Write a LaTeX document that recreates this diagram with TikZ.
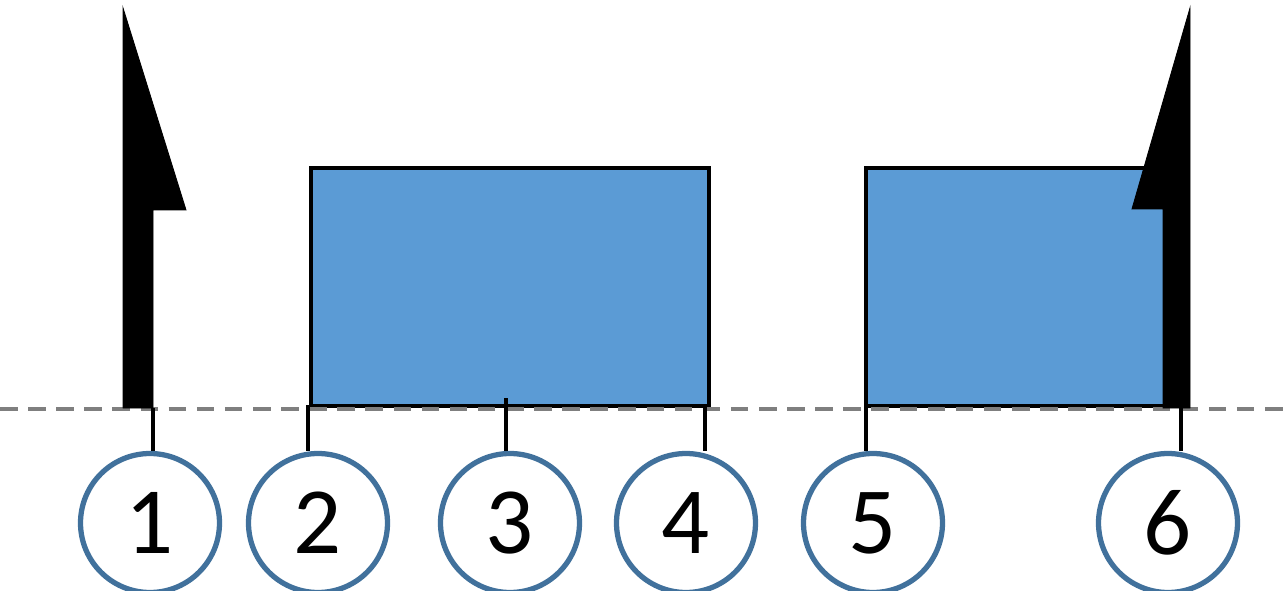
\documentclass[tikz,border=0pt]{standalone}
\usepackage{fontspec}
\setmainfont{Carlito}
\definecolor{boxblue}{HTML}{5B9BD5}
\definecolor{ringblue}{HTML}{41719C}
\definecolor{dashgray}{HTML}{7F7F7F}
\begin{document}
\begin{tikzpicture}[x=0.02cm,y=-0.02cm,
  block/.style={draw=black,line width=2.3pt,fill=boxblue},
  marker/.style={circle,draw=ringblue,line width=3pt,fill=white,minimum size=2.78cm,inner sep=0pt,font=\fontsize{54}{54}\selectfont},
  leader/.style={draw=black,line width=2.1pt},
  pointer/.style={fill=black,draw=black,line width=0.5pt}]
\useasboundingbox (0,0) rectangle (1288,591);
\clip (0,0) rectangle (1288,591);
% blocks
\draw[block] (311,168) rectangle (709,406);
\draw[block] (866,168) rectangle (1165,406);
% dashed reference line
\draw[dashgray,line width=1.8pt,dash pattern=on 10pt off 6pt] (0,409) -- (1288,409);
% arrows
\filldraw[pointer] (123,408) -- (123,8) -- (186,210) -- (153,210) -- (153,408) -- cycle;
\filldraw[pointer] (1190,408) -- (1190,8) -- (1132,209) -- (1163,209) -- (1163,408) -- cycle;
% markers
\node[marker] (m1) at (150,523) {1};
\node[marker] (m2) at (318,523) {2};
\node[marker] (m3) at (510,523) {3};
\node[marker] (m4) at (686,523) {4};
\node[marker] (m5) at (873,523) {5};
\node[marker] (m6) at (1168,523) {6};
% anchor points
\coordinate (a1) at (153,408);
\coordinate (a2) at (308,405);
\coordinate (a3) at (506,398);
\coordinate (a4) at (705,405);
\coordinate (a5) at (866,405);
\coordinate (a6) at (1181,408);
\draw[leader] (a1) -- (a1 |- m1.north);
\draw[leader] (a2) -- (a2 |- m2.north);
\draw[leader] (a3) -- (a3 |- m3.north);
\draw[leader] (a4) -- (a4 |- m4.north);
\draw[leader] (a5) -- (a5 |- m5.north);
\draw[leader] (a6) -- (a6 |- m6.north);
\end{tikzpicture}
\end{document}
